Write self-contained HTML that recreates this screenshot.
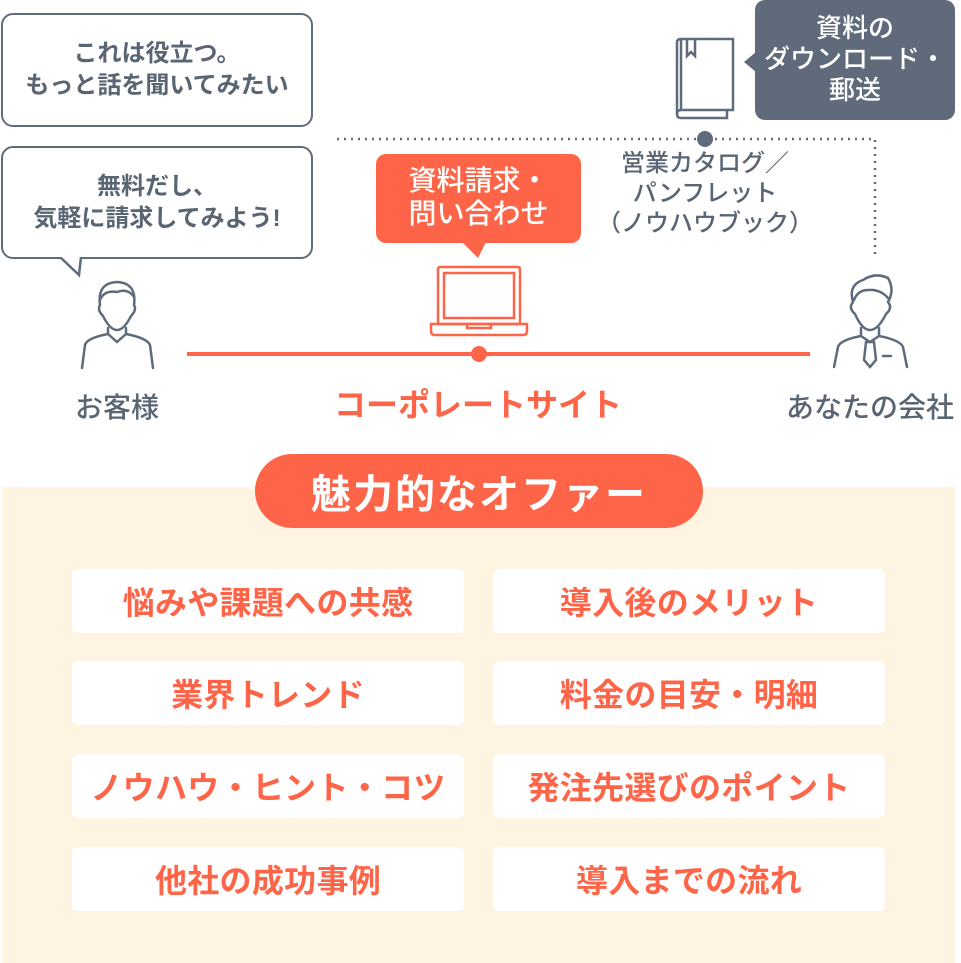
<!DOCTYPE html>
<html><head><meta charset="utf-8"><style>
body{margin:0;width:961px;height:963px;position:relative;background:#fff;font-family:"Liberation Sans","Noto Sans CJK JP",sans-serif;overflow:hidden}
.a{position:absolute}
.bub{position:absolute;border:2.5px solid #5f6b7a;border-radius:12px;background:#fff;box-sizing:border-box;color:#5a6573;font-weight:bold;font-size:24px;line-height:32px;text-align:center;display:flex;align-items:center;justify-content:center;white-space:nowrap}
.lbl{position:absolute;text-align:center;white-space:nowrap}
.box{position:absolute;width:392px;height:64px;background:#fff;border-radius:6px;color:#fe6548;font-weight:bold;font-size:32px;letter-spacing:0.3px;display:flex;align-items:center;justify-content:center;white-space:nowrap}
</style></head><body>
<div class="bub" style="left:1px;top:13px;width:312px;height:114px">これは役立つ。<br>もっと話を聞いてみたい</div>
<div class="bub" style="left:1px;top:146px;width:312px;height:113px">無料だし、<br>気軽に請求してみよう!</div>
<svg class="a" style="left:0;top:0" width="961" height="440">
<path d="M60 257 L79 275 L81 257" fill="#fff" stroke="#5f6b7a" stroke-width="2.5"/>
<rect x="56" y="252" width="30" height="5" fill="#fff"/>
<rect x="376" y="154" width="205" height="89" rx="10" fill="#fe6548"/>
<path d="M462 242 L478 258 L486 242Z" fill="#fe6548"/>
<rect x="755" y="0" width="200" height="120" rx="10" fill="#5f6b7a"/>
<path d="M756 52 L744 62 L756 72Z" fill="#5f6b7a"/>
<path d="M337 139 H875 V257" fill="none" stroke="#5f6b7a" stroke-width="2.5" stroke-dasharray="2 5"/>
<circle cx="705" cy="139" r="8" fill="#5f6b7a"/>
<g fill="none" stroke="#5f6b7a" stroke-width="2.5">
<path d="M681 39 H733 V110 H681 Z"/><path d="M677 42 Q677 39 681 39"/>
<path d="M677 42 V114 Q677 118 681 118 H727 V110"/><path d="M681 110 Q677 110 677 114"/>
<path d="M687 39 V56 L691 52 L695 56 V39"/>
</g>
<g fill="none" stroke="#fe6548" stroke-width="2.5">
<rect x="438" y="267" width="82" height="57" rx="2"/><rect x="444" y="273" width="70" height="45"/>
<path d="M431 324 H527 V331 Q527 335 523 335 H435 Q431 335 431 331Z"/><path d="M467 324 V328 H491 V324"/>
</g>
<line x1="187" y1="354" x2="810" y2="354" stroke="#fe6548" stroke-width="4"/>
<circle cx="479" cy="354" r="8" fill="#fe6548"/>
<g fill="none" stroke="#5f6b7a" stroke-width="2.5" stroke-linecap="round">
<path d="M100 305 Q97 283 117 282 Q137 283 134 305 Q137 310 131 316 Q124 330 117 330 Q110 330 103 316 Q97 310 100 305Z"/>
<path d="M100 300 Q104 290 117 292 Q128 288 134 297"/>
<path d="M108 328 V334 L117 342 L126 334 V328"/>
<path d="M108 334 Q87 338 85 345 L82 368"/><path d="M126 334 Q147 338 150 345 L153 368"/>
<path d="M853 302 Q848 285 863 280 Q875 272 888 278 Q895 290 888 302 Q893 308 886 314 Q878 330 870 330 Q862 330 855 314 Q848 308 853 302Z"/>
<path d="M854 300 Q858 290 868 290 Q880 289 888 298"/>
<path d="M861 328 V336 L870 342 L879 336 V328"/>
<path d="M861 336 Q840 340 838 347 L834 367"/><path d="M879 336 Q900 340 903 347 L907 367"/>
<path d="M866 342 L864 360 L870 367 L876 360 L874 342Z"/><path d="M883 356 H891"/>
</g>
</svg>
<div class="lbl" style="left:376px;top:164px;width:205px;color:#fff;font-size:28px;line-height:33px;font-weight:500">資料請求・<br>問い合わせ</div>
<div class="lbl" style="left:755px;top:13px;width:200px;color:#fff;font-size:26px;line-height:31px;font-weight:500">資料の<br>ダウンロード・<br>郵送</div>
<div class="lbl" style="left:580px;top:149px;width:250px;color:#5a6573;font-size:24px;line-height:30px;font-weight:500">営業カタログ／<br>パンフレット<br>（ノウハウブック）</div>
<div class="lbl" style="left:37px;top:386px;width:160px;color:#5a6573;font-size:28px;font-weight:500">お客様</div>
<div class="lbl" style="left:278px;top:380px;width:400px;color:#fe6548;font-size:32px;font-weight:bold">コーポレートサイト</div>
<div class="lbl" style="left:770px;top:386px;width:200px;color:#5a6573;font-size:28px;font-weight:500">あなたの会社</div>
<div class="a" style="left:2px;top:487px;width:953px;height:476px;background:#fef4e1"></div>
<div class="a" style="left:255px;top:454px;width:448px;height:74px;border-radius:37px;background:#fe6548;color:#fff;font-size:40px;letter-spacing:2px;font-weight:bold;display:flex;align-items:center;justify-content:center">魅力的なオファー</div>
<div class="box" style="left:72px;top:569px">悩みや課題への共感</div>
<div class="box" style="left:493px;top:569px">導入後のメリット</div>
<div class="box" style="left:72px;top:661px">業界トレンド</div>
<div class="box" style="left:493px;top:661px">料金の目安・明細</div>
<div class="box" style="left:72px;top:754px">ノウハウ・ヒント・コツ</div>
<div class="box" style="left:493px;top:754px">発注先選びのポイント</div>
<div class="box" style="left:72px;top:847px">他社の成功事例</div>
<div class="box" style="left:493px;top:847px">導入までの流れ</div>
</body></html>
